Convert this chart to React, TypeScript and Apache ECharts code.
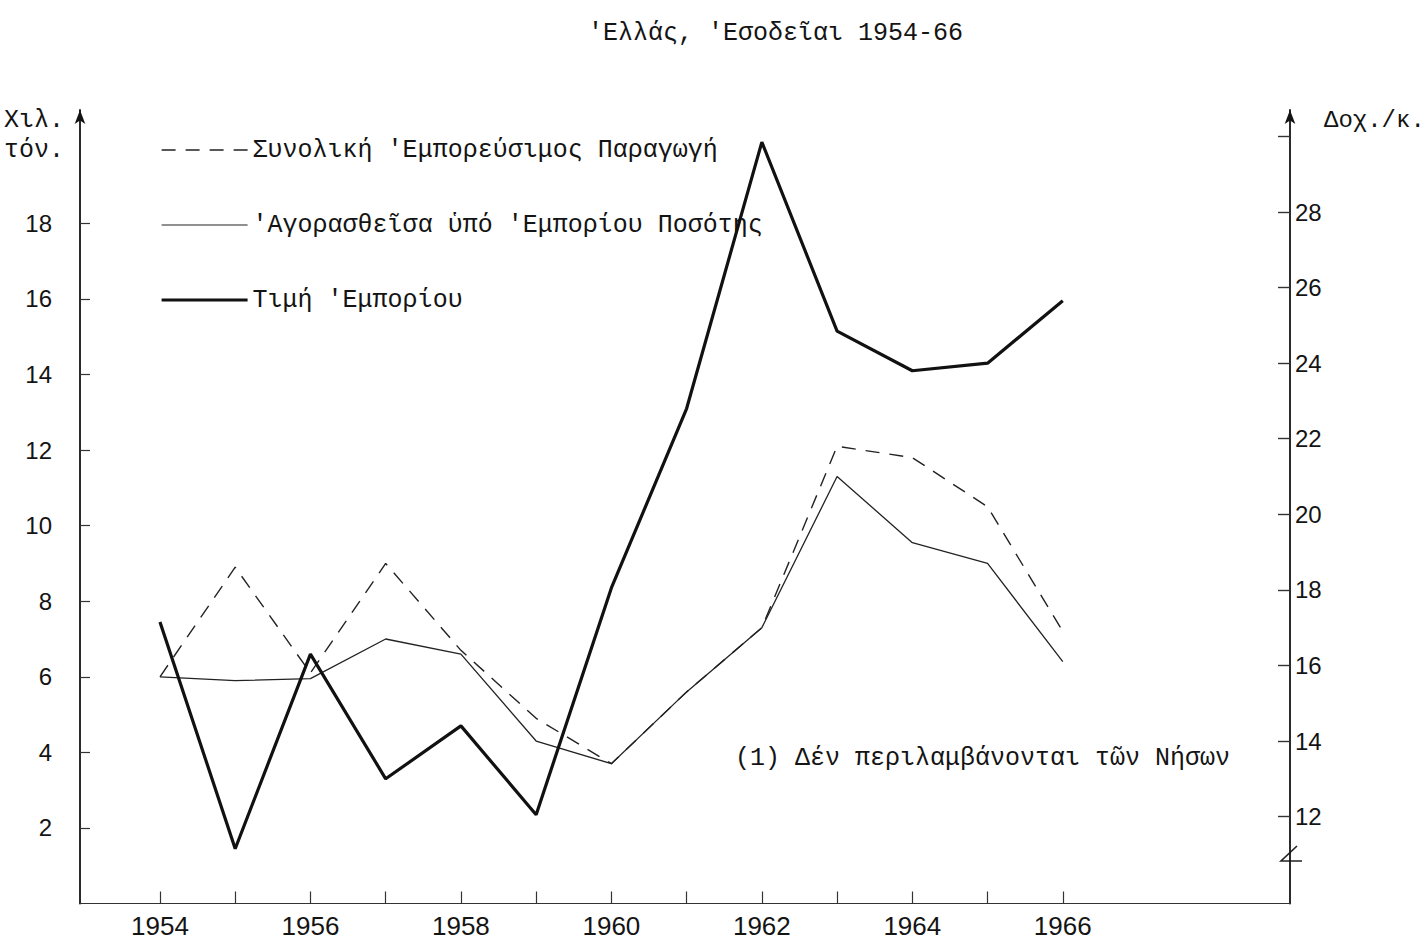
import React, { useEffect, useRef } from "react";
import * as echarts from "echarts";

// ---- data ----
const years = [1954, 1955, 1956, 1957, 1958, 1959, 1960, 1961, 1962, 1963, 1964, 1965, 1966];
// thousand tons (left axis)
const totalProduction = [6.0, 8.9, 6.1, 9.0, 6.7, 4.9, 3.7, 5.6, 7.3, 12.1, 11.8, 10.5, 7.2];
const purchasedByTrade = [6.0, 5.9, 5.95, 7.0, 6.6, 4.3, 3.7, 5.6, 7.3, 11.3, 9.55, 9.0, 6.4];
// drachmas per kg (right axis)
const tradePrice = [17.15, 11.15, 16.3, 13.0, 14.4, 12.05, 18.05, 22.8, 29.85, 24.85, 23.8, 24.0, 25.65];

const xLabelYears = [1954, 1956, 1958, 1960, 1962, 1964, 1966];
const xTickYears = [1954, 1955, 1956, 1957, 1958, 1959, 1960, 1961, 1962, 1963, 1964, 1965, 1966];
const leftTicks = [2, 4, 6, 8, 10, 12, 14, 16, 18];
const rightLabels = [12, 14, 16, 18, 20, 22, 24, 26, 28];
const rightTicks = [12, 14, 16, 18, 20, 22, 24, 26, 28, 30];

const seriesNames = [
  "Συνολική 'Εμπορεύσιμος Παραγωγή",
  "'Αγορασθεῖσα ὑπό 'Εμπορίου Ποσότης",
  "Τιμή 'Εμπορίου",
];
const titleText = "'Ελλάς, 'Εσοδεῖαι 1954-66";
const noteText = "(1) Δέν περιλαμβάνονται τῶν Νήσων";

const MONO = '"Liberation Mono", "DejaVu Sans Mono", monospace';
const SANS = '"Liberation Sans", "DejaVu Sans", sans-serif';
const INK = "#141414";

const pair = (arr: number[]) => years.map((y, i) => [y, arr[i]]);

export default function App() {
  const ref = useRef<HTMLDivElement>(null);
  useEffect(() => {
    const chart = echarts.init(ref.current!, null, { renderer: "svg" });
    chart.setOption({
      animation: false,
      backgroundColor: "#ffffff",
      title: {
        text: titleText,
        left: 583,
        top: 16,
        textStyle: { fontFamily: MONO, fontSize: 25, fontWeight: "normal", color: INK },
      },
      legend: {
        orient: "vertical",
        left: 155,
        top: 132,
        itemWidth: 86,
        itemHeight: 14,
        itemGap: 49,
        selectedMode: false,
        itemStyle: { opacity: 0 },
        textStyle: { fontFamily: MONO, fontSize: 25, color: INK, lineHeight: 26 },
        data: [
          { name: seriesNames[0], lineStyle: { width: 1.4 } },
          { name: seriesNames[1], lineStyle: { width: 1.2 } },
          { name: seriesNames[2], lineStyle: { width: 3.2 } },
        ],
      },
      grid: { left: 80, right: 138, top: 110, bottom: 38.5, containLabel: false, outerBoundsMode: "none" },
      xAxis: {
        type: "value",
        min: 1952.937,
        max: 1969.02,
        axisLine: { show: true, onZero: false, lineStyle: { color: "#333", width: 1.2 } },
        axisTick: { show: true, inside: true, length: 12, customValues: xTickYears, lineStyle: { color: "#333", width: 1.2 } },
        axisLabel: {
          customValues: xLabelYears,
          margin: 9,
          fontSize: 26,
          fontFamily: SANS,
          color: INK,
          formatter: (v: number) => String(v),
        },
        splitLine: { show: false },
      },
      yAxis: [
        {
          type: "value",
          position: "left",
          min: 0,
          max: 21,
          axisLine: {
            show: true,
            symbol: ["none", "arrow"],
            symbolSize: [8, 14],
            lineStyle: { color: INK, width: 1.8 },
          },
          axisTick: { show: true, inside: true, length: 10, customValues: leftTicks, lineStyle: { color: "#333", width: 1.2 } },
          axisLabel: { customValues: leftTicks, margin: 28, fontSize: 24, fontFamily: SANS, color: INK },
          splitLine: { show: false },
        },
        {
          type: "value",
          position: "right",
          min: 9.7,
          max: 30.7,
          alignTicks: false,
          axisLine: {
            show: true,
            symbol: ["none", "arrow"],
            symbolSize: [8, 14],
            lineStyle: { color: INK, width: 1.8 },
          },
          axisTick: { show: true, inside: true, length: 12, customValues: rightTicks, lineStyle: { color: "#333", width: 1.4 } },
          axisLabel: { customValues: rightLabels, margin: 5, fontSize: 24, fontFamily: SANS, color: INK },
          splitLine: { show: false },
        },
      ],
      series: [
        {
          name: seriesNames[0],
          type: "line",
          yAxisIndex: 0,
          data: pair(totalProduction),
          symbol: "none",
          itemStyle: { color: "#222" },
          lineStyle: { color: "#222", width: 1.4, type: [14, 10] },
          z: 3,
        },
        {
          name: seriesNames[1],
          type: "line",
          yAxisIndex: 0,
          data: pair(purchasedByTrade),
          symbol: "none",
          itemStyle: { color: "#222" },
          lineStyle: { color: "#222", width: 1.3, type: "solid" },
          z: 2,
        },
        {
          name: seriesNames[2],
          type: "line",
          yAxisIndex: 1,
          data: pair(tradePrice),
          symbol: "none",
          itemStyle: { color: "#111" },
          lineStyle: { color: "#111", width: 3.2, type: "solid" },
          z: 4,
        },
      ],
      graphic: [
        { type: "text", left: 4, top: 108, style: { text: "Χιλ.", font: `25px ${MONO}`, fill: INK } },
        { type: "text", left: 4, top: 138, style: { text: "τόν.", font: `25px ${MONO}`, fill: INK } },
        { type: "text", left: 1324, top: 108, style: { text: "Δοχ./κ.", font: `24px ${MONO}`, fill: INK } },
        { type: "text", left: 735, top: 746, style: { text: noteText, font: `25px ${MONO}`, fill: INK } },
        {
          type: "polyline",
          shape: { points: [[1297, 846], [1281, 861], [1302, 861]] },
          style: { stroke: "#222", lineWidth: 1.6, fill: "none" },
        },
      ],
    });
    return () => chart.dispose();
  }, []);
  return (
    <div
      ref={ref}
      style={{ position: "fixed", left: 0, top: 0, width: 1428, height: 942, background: "#fff" }}
    />
  );
}
